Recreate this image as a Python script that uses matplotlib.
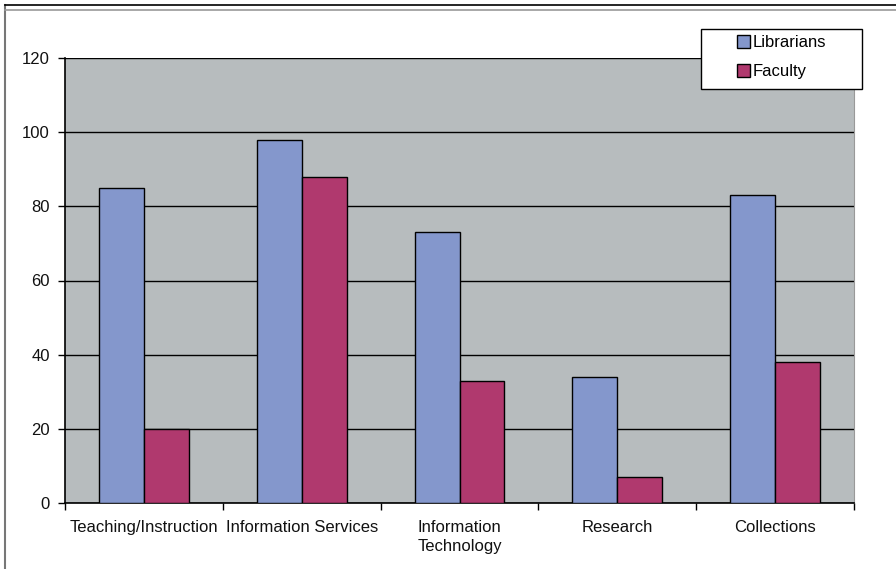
import numpy as np
import matplotlib
matplotlib.use("Agg")
import matplotlib.pyplot as plt
from matplotlib.lines import Line2D
from matplotlib.patches import Rectangle

categories = ["Teaching/Instruction", "Information Services", "Information\nTechnology",
              "Research", "Collections"]
librarians = [85, 98, 73, 34, 83]
faculty = [20, 88, 33, 7, 38]

plt.rcParams["font.family"] = ["Liberation Sans", "DejaVu Sans"]

fig = plt.figure(figsize=(8.96, 5.69), dpi=100)
ax = fig.add_axes([65 / 896, 66 / 569, 789 / 896, 445 / 569])
ax.set_facecolor("#b7bcbe")

x = np.arange(len(categories))
w = 0.285
ax.bar(x - w / 2, librarians, w, color="#8497cc", edgecolor="black", linewidth=1,
       label="Librarians", zorder=3)
ax.bar(x + w / 2, faculty, w, color="#b0396e", edgecolor="black", linewidth=1,
       label="Faculty", zorder=3)

ax.set_ylim(0, 120)
ax.set_xlim(-0.5, len(categories) - 0.5)
ax.set_yticks(range(0, 121, 20))
ax.yaxis.grid(True, color="black", linewidth=1, zorder=1)
ax.set_axisbelow(True)

ax.set_xticks(x)
ax.set_xticklabels(categories, fontsize=12, linespacing=1.35, color="#111111")
ax.set_xticks(np.arange(-0.5, len(categories), 1), minor=True)
ax.tick_params(axis="x", which="major", length=0, pad=12)
ax.tick_params(axis="x", which="minor", length=5, width=1, direction="out")
ax.tick_params(axis="y", length=5, width=1, labelsize=12, pad=6, labelcolor="#111111")

ax.spines["top"].set_visible(False)
ax.spines["right"].set_color("#999999")
ax.spines["right"].set_linewidth(0.8)
ax.spines["left"].set_linewidth(1.2)
ax.spines["bottom"].set_linewidth(1.2)

# legend box drawn by hand, entries placed inside it
fig.add_artist(Rectangle((701 / 896, 1 - 89 / 569), 161 / 896, 60 / 569,
                         transform=fig.transFigure, facecolor="white",
                         edgecolor="black", linewidth=1, zorder=9))
handles, labels = ax.get_legend_handles_labels()
leg = fig.legend(handles, labels, loc="upper left", bbox_to_anchor=(737 / 896, 1 - 35 / 569),
                 bbox_transform=fig.transFigure, borderaxespad=0,
                 fontsize=12, frameon=False, handlelength=0.8,
                 handleheight=0.8, handletextpad=0.15, borderpad=0, labelspacing=0.85)
leg.set_zorder(10)

# outer frame lines
fig.add_artist(Line2D([5 / 896, 5 / 896], [0, 1 - 5 / 569], color="#777777", linewidth=1.5))
fig.add_artist(Line2D([5 / 896, 1], [1 - 5 / 569, 1 - 5 / 569], color="black", linewidth=1.2))
fig.add_artist(Line2D([5 / 896, 1], [1 - 10 / 569, 1 - 10 / 569], color="#999999", linewidth=1.2))

fig.savefig("out.png", dpi=100)
